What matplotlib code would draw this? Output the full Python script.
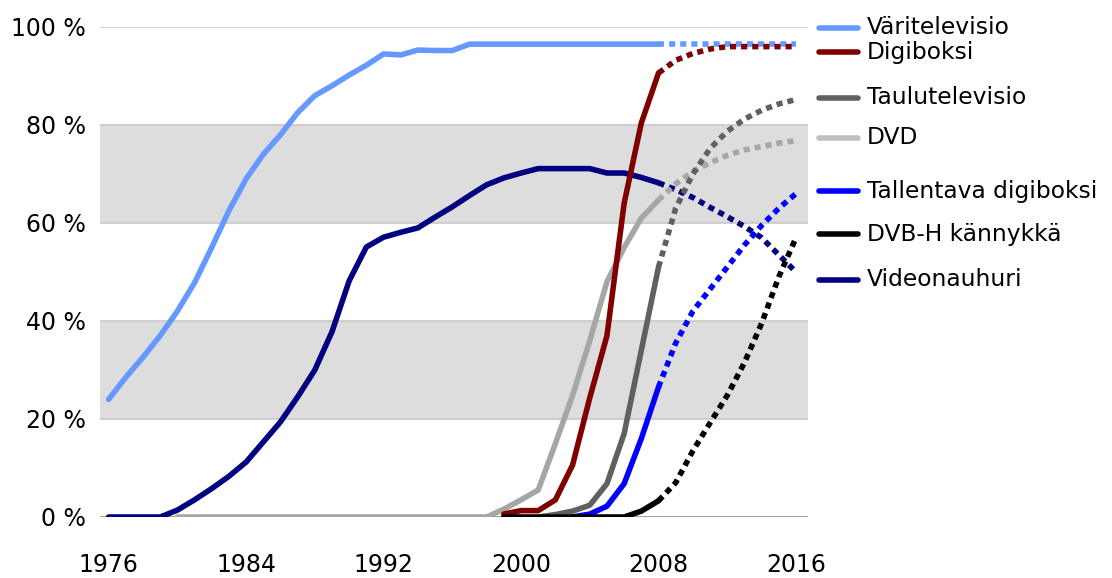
import numpy as np
import matplotlib
matplotlib.use("Agg")
import matplotlib.pyplot as plt
from matplotlib.lines import Line2D

plt.rcParams["font.family"] = ["DejaVu Sans"]

nan = np.nan
years = np.arange(1976, 2017)
split_year = 2008  # solid up to here, dotted forecast after

# household penetration, %
varitelevisio = [24, 28.5, 32.6, 37, 42, 47.8, 55, 62.5, 69, 74, 78, 82.5, 86, 88,
                 90.2, 92.2, 94.5, 94.3, 95.3, 95.2, 95.2, 96.5, 96.5, 96.5, 96.5,
                 96.5, 96.5, 96.5, 96.5, 96.5, 96.5, 96.5, 96.5, 96.5, 96.5, 96.5,
                 96.5, 96.5, 96.5, 96.5, 96.5]
videonauhuri = [0, 0, 0, 0, 1.4, 3.5, 5.8, 8.3, 11.2, 15.3, 19.4, 24.5, 30, 37.8,
                48.2, 55.1, 57.1, 58.1, 59, 61.2, 63.3, 65.6, 67.8, 69.2, 70.2,
                71.1, 71.1, 71.1, 71.1, 70.2, 70.2, 69.3, 68.2, 66.8, 65.2, 63.2,
                61.3, 59.3, 57, 53.5, 50]
dvd = [nan, nan, nan, nan, 0, 0, 0, 0, 0, 0, 0, 0, 0, 0, 0, 0, 0, 0, 0, 0, 0, 0,
       0, 1.6, 3.5, 5.5, 15, 24.8, 36, 48, 55, 61, 64.7, 68, 70.5, 72.3, 73.8,
       74.9, 75.6, 76.3, 76.8]
digiboksi = [nan] * 23 + [0.6, 1.3, 1.3, 3.5, 10.6, 24.3, 37, 64, 80.4, 90.6,
                          93.2, 94.6, 95.5, 96, 96, 96, 96, 96]
taulutelevisio = [nan] * 25 + [0, 0.5, 1.2, 2.4, 6.8, 17, 34, 51, 63, 70, 75.2,
                               78.7, 81.2, 83, 84.3, 85.2]
tallentava = [nan] * 27 + [0, 0.6, 2.2, 6.8, 16, 26.5, 35.5, 42, 46.5, 51, 55.5,
                           59.5, 63, 66]
dvbh = [nan] * 23 + [0, 0, 0, 0, 0, 0, 0, 0, 1.2, 3.3, 7, 13.5, 19.2, 24.8,
                     31.5, 39.5, 49, 57]

series = [
    ("Väritelevisio", varitelevisio, "#6699ff"),
    ("Videonauhuri", videonauhuri, "#000080"),
    ("DVD", dvd, "#a6a6a6"),
    ("Digiboksi", digiboksi, "#800000"),
    ("Taulutelevisio", taulutelevisio, "#606060"),
    ("Tallentava digiboksi", tallentava, "#0000ff"),
    ("DVB-H kännykkä", dvbh, "#000000"),
]

# legend rows sit next to the line ends, not evenly spaced (pixel y from top)
legend_rows = [
    ("Väritelevisio", "#6699ff", 28),
    ("Digiboksi", "#800000", 52),
    ("Taulutelevisio", "#606060", 98),
    ("DVD", "#c0c0c0", 138),
    ("Tallentava digiboksi", "#0000ff", 191),
    ("DVB-H kännykkä", "#000000", 234),
    ("Videonauhuri", "#000080", 280),
]

W, H = 1112, 578
fig = plt.figure(figsize=(W / 100, H / 100), dpi=100)
ax = fig.add_axes([100 / W, 61 / H, 708 / W, 490 / H])

lw = 4.0
for y0, y1 in [(20, 40), (60, 80)]:
    ax.axhspan(y0, y1, color="#dddddd", lw=0, zorder=0)
for g in [20, 40, 60, 80, 100]:
    ax.axhline(g, color="#c8c8c8", lw=1.2, zorder=1)
ax.axhline(0, color="#8c8c8c", lw=1.2, zorder=1)

for i, (name, vals, col) in enumerate(series):
    v = np.array(vals, dtype=float)
    solid = years <= split_year
    dotted = years >= split_year
    ax.plot(years[solid], v[solid], color=col, lw=lw,
            solid_capstyle="round", solid_joinstyle="round", zorder=3 + i)
    ax.plot(years[dotted], v[dotted], color=col, lw=lw,
            linestyle=(0, (1.1, 0.9)), dash_capstyle="butt", zorder=3 + i)

ax.set_xlim(1975.5, 2016.7)
ax.set_ylim(0, 100)
ax.set_xticks(np.arange(1976, 2017, 8))
ax.set_yticks(np.arange(0, 101, 20))
ax.set_yticklabels([f"{t} %" for t in range(0, 101, 20)])
ax.tick_params(axis="x", length=0, pad=26, labelsize=17)
ax.tick_params(axis="y", length=0, pad=10, labelsize=17)
for s in ax.spines.values():
    s.set_visible(False)

for label, col, ypx in legend_rows:
    yf = 1 - ypx / H
    fig.add_artist(Line2D([819 / W, 858 / W], [yf, yf], color=col, lw=lw,
                          solid_capstyle="round", transform=fig.transFigure))
    fig.text(867 / W, yf, label, fontsize=16.8, va="center", ha="left",
             color="#000000")

fig.savefig("out.png", dpi=100)
